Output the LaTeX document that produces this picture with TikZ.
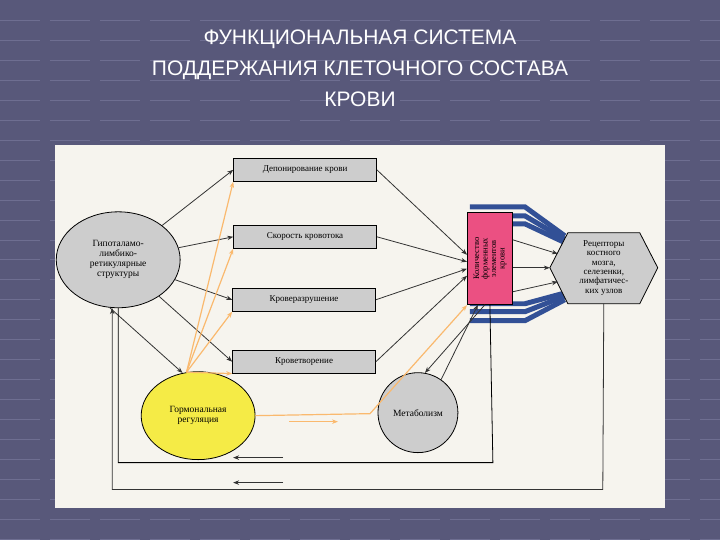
\documentclass[tikz,border=0pt]{standalone}
\usepackage{fontspec}
\setmainfont{Liberation Serif}
\newfontfamily\titlefont{Liberation Sans}
\usetikzlibrary{shapes.geometric,arrows.meta}
\definecolor{slide}{RGB}{88,88,122}
\definecolor{grid}{RGB}{110,110,145}
\definecolor{paper}{RGB}{246,244,238}
\definecolor{boxg}{RGB}{205,205,205}
\definecolor{pinkb}{RGB}{235,80,130}
\definecolor{stripe}{RGB}{50,80,150}
\definecolor{orng}{RGB}{250,185,110}
\definecolor{yel}{RGB}{245,235,70}
\begin{document}
\begin{tikzpicture}[x=1pt,y=-1pt,
  rect/.style={draw,fill=boxg,minimum width=143,minimum height=23,font=\fontsize{9}{10}\selectfont,line width=0.8pt},
  blob/.style={draw,ellipse,fill=boxg,font=\fontsize{9.5}{10}\selectfont,align=center,line width=0.8pt,inner sep=1pt},
  arr/.style={-{Stealth[length=6pt]},line width=0.8pt,black!80},
  oarr/.style={-{Stealth[length=6pt]},line width=1.2pt,orng},
  band/.style={line width=5pt,stripe}]
\fill[slide] (0,0) rectangle (720,540);
\foreach \y in {20,40,...,540}{\draw[grid,line width=0.6pt,dash pattern=on 40pt off 10pt] (0,\y) -- (720,\y);}
\fill[paper] (55,145) rectangle (665,508);
\node[white,align=center,font=\titlefont\fontsize{21}{31}\selectfont] (title) at (360,68) {ФУНКЦИОНАЛЬНАЯ СИСТЕМА\\ПОДДЕРЖАНИЯ КЛЕТОЧНОГО СОСТАВА\\КРОВИ};
% stripes
\foreach \d in {0,9,17}{
  \draw[band] (470,207+\d) -- (525,207+\d) -- (565,236+\d*0.4);
  \draw[band] (470,321-\d) -- (525,321-\d) -- (565,300-\d*0.4);
}
\node[rect] (dep) at (305,170) {Депонирование крови};
\node[rect] (sk) at (305,237) {Скорость кровотока};
\node[rect] (raz) at (304,300) {Кроверазрушение};
\node[rect] (tv) at (304,362) {Кроветворение};
\node[blob,minimum width=124,minimum height=96] (hyp) at (118,260) {Гипоталамо-\\лимбико-\\ретикулярные\\структуры};
\node[blob,fill=yel,minimum width=114,minimum height=88] (horm) at (198,416) {Гормональная\\регуляция};
\node[blob,minimum width=80,minimum height=80] (met) at (418,413) {Метаболизм};
\node[draw,fill=pinkb,minimum width=45,minimum height=92,line width=0.8pt] (pink) at (490,259) {};
\node[rotate=90,align=center,font=\fontsize{8.5}{8.5}\selectfont] (pinkt) at (490,259) {Количество\\форменных\\элементов\\крови};
\coordinate (h1) at (550,268); \coordinate (h2) at (568,233); \coordinate (h3) at (640,233);
\coordinate (h4) at (658,268); \coordinate (h5) at (640,304); \coordinate (h6) at (568,304);
\draw[fill=boxg,line width=0.8pt] (h1) -- (h2) -- (h3) -- (h4) -- (h5) -- (h6) -- cycle;
\node[align=center,font=\fontsize{9}{9.5}\selectfont] (hext) at (604,268) {Рецепторы\\костного\\мозга,\\селезенки,\\лимфатичес-\\ких узлов};
% black arrows
\foreach \b/\yy in {dep/255,sk/262,raz/269,tv/276}{\draw[arr] (hyp) -- (\b.west); \draw[arr] (\b.east) -- (pink.west |- 0,\yy);}
\draw[arr] (hyp.260) -- (horm.110);
\draw[arr] (485,305) -- (met.80);
\draw[arr] (met.55) -- (478,305);
\draw[arr] (pink.east |- 0,240) -- (558,254);
\draw[arr] (pink.east |- 0,268) -- (h1);
\draw[arr] (pink.east |- 0,292) -- (558,282);
% orange
\foreach \b in {dep,sk,raz,tv}{\draw[oarr] (horm.105) -- (\b.south west);}
\coordinate (ob) at (370,414);
\draw[oarr] (horm.east) -- (ob) -- (pink.south west);
\coordinate (o1) at (289,422); \coordinate (o2) at (338,422);
\draw[oarr] (o1) -- (o2);
% feedback loops
\coordinate (l1) at (493,463); \coordinate (l2) at (118,463);
\draw[line width=0.8pt] (pink.south) -- (l1) -- (l2) -- (hyp.south);
\coordinate (m1) at (603,490); \coordinate (m2) at (112,490);
\draw[arr] (h5 -| hext) -- (m1) -- (m2) -- ([xshift=-6pt]hyp.south);
\coordinate (a1) at (283,458); \coordinate (a2) at (233,458);
\draw[arr] (a1) -- (a2);
\coordinate (b1) at (283,483); \coordinate (b2) at (233,483);
\draw[arr] (b1) -- (b2);
\end{tikzpicture}
\end{document}
